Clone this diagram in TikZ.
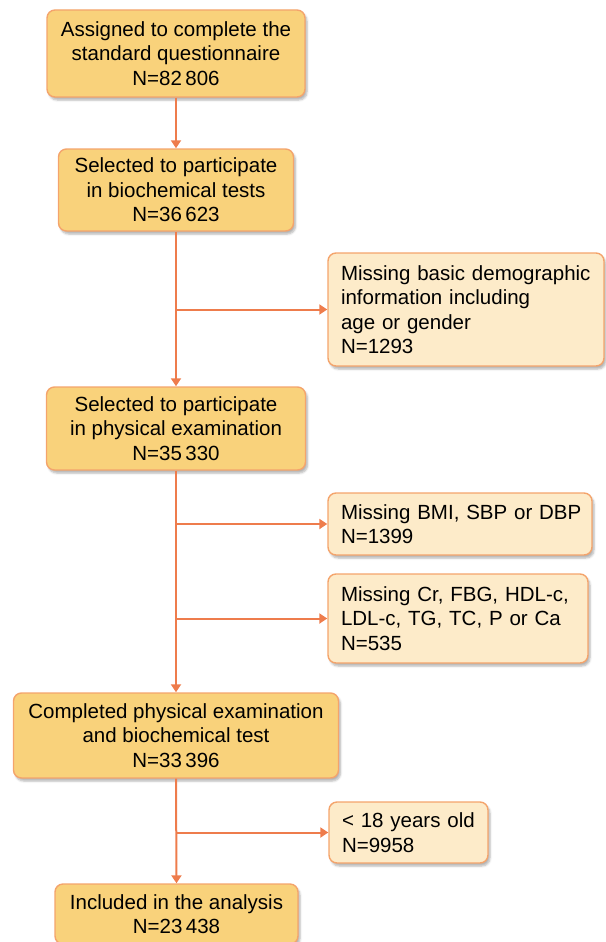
\documentclass[tikz,border=0pt]{standalone}
\usepackage{fontspec}
\setmainfont{Liberation Sans}
\usetikzlibrary{arrows.meta,shadows.blur}
\definecolor{mainfill}{HTML}{F9D27B}
\definecolor{sidefill}{HTML}{FDEBC9}
\definecolor{bord}{HTML}{F4A46C}
\definecolor{arrc}{HTML}{EE7C4C}
\tikzset{
  basebox/.style={draw=bord, line width=1.4pt, rounded corners=8pt,
    font=\fontsize{20.5}{24.5}\selectfont,
    blur shadow={shadow xshift=2pt, shadow yshift=-3pt, shadow opacity=30, shadow blur steps=5}},
  mainbox/.style={basebox, fill=mainfill, align=center, inner sep=0pt},
  sidebox/.style={basebox, fill=sidefill, align=left, inner xsep=13pt, inner ysep=0pt},
  arr/.style={draw=arrc, line width=2pt, -{Triangle[width=10pt,length=8pt]}},
}
\begin{document}
\begin{tikzpicture}[x=1pt,y=-1pt]
\useasboundingbox (0,0) rectangle (605,942);
\node[mainbox, minimum width=258pt, minimum height=87pt] (b1) at (176,53.5)
  {Assigned to complete the\\standard questionnaire\\N=82\,806};
\node[mainbox, minimum width=235pt, minimum height=82pt] (b2) at (176,190)
  {Selected to participate\\in biochemical tests\\N=36\,623};
\node[sidebox, text width=250pt, minimum height=113pt] (b3) at (466,309.5)
  {Missing basic demographic\\information including\\age or gender\\N=1293};
\node[mainbox, minimum width=259pt, minimum height=83pt] (b4) at (176,428.5)
  {Selected to participate\\in physical examination\\N=35\,330};
\node[sidebox, text width=238pt, minimum height=62pt] (b5) at (460,524)
  {\mbox{Missing BMI, SBP or DBP}\\N=1399};
\node[sidebox, text width=234pt, minimum height=89pt] (b6) at (458,618.5)
  {Missing Cr, FBG, HDL-c,\\LDL-c, TG, TC, P or Ca\\N=535};
\node[mainbox, minimum width=325pt, minimum height=85pt] (b7) at (176,735.5)
  {Completed physical examination\\and biochemical test\\N=33\,396};
\node[sidebox, text width=133pt, minimum height=61pt] (b8) at (408.5,832.5)
  {< 18 years old\\N=9958};
\node[mainbox, minimum width=243pt, minimum height=60pt] (b9) at (176.5,914)
  {Included in the analysis\\N=23\,438};
% connectors
\draw[arr] (b1.south) -- (b2.north);
\draw[arr] (b2.south) -- (b4.north);
\draw[arr] (b2.south |- b3.west) -- (b3.west);
\draw[arr] (b4.south) -- (b7.north);
\draw[arr] (b4.south |- b5.west) -- (b5.west);
\draw[arr] (b4.south |- b6.west) -- (b6.west);
\draw[arr] (b7.south) -- (b9.north);
\draw[arr] (b7.south |- b8.west) -- (b8.west);
\end{tikzpicture}
\end{document}
